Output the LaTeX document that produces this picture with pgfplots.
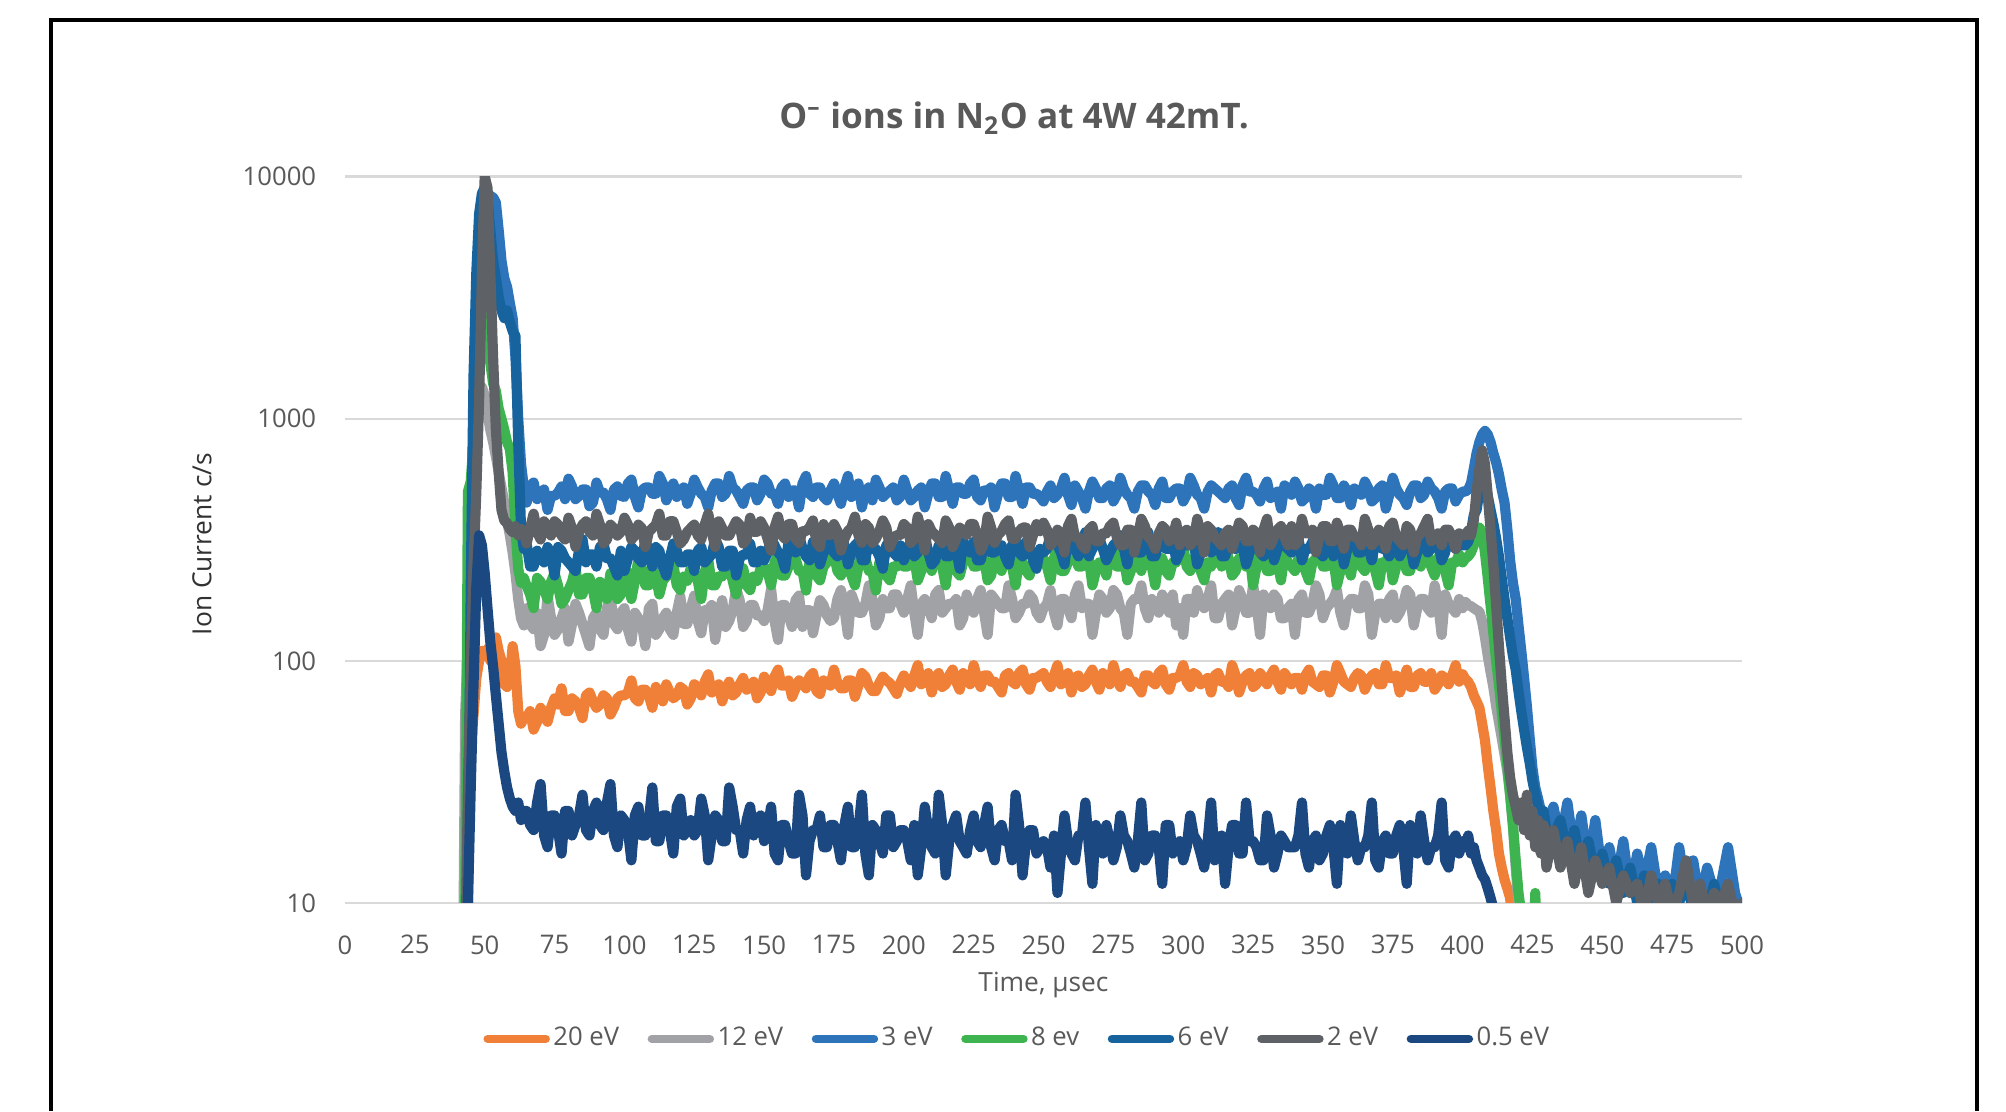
\documentclass[border=0pt]{standalone}
\usepackage{fontspec}
\setmainfont{Open Sans}
\usepackage{pgfplots}
\usepackage{pgfplotstable}
\pgfplotsset{compat=1.18}
\definecolor{cO}{RGB}{240,128,56}
\definecolor{cG}{RGB}{160,162,166}
\definecolor{cB}{RGB}{46,116,186}
\definecolor{cGr}{RGB}{62,180,80}
\definecolor{cB6}{RGB}{22,99,157}
\definecolor{cD}{RGB}{94,97,101}
\definecolor{cN}{RGB}{27,72,128}
\definecolor{txt}{RGB}{89,89,89}
\definecolor{gridc}{RGB}{217,217,217}
\pgfplotstableread{
t o20 g12 b3 gr8 b6 d2 n05
42 2 2 2 2 2 2 2
43 5 60 3 8 3 5 3
44 30 120 20 500 10 30 10
45 42 400 150 550 200 100 30
46 60 900 700 800 1500 250 80
47 85 1200 2500 1800 4000 500 200
48 100 1300 5000 2800 7000 1200 330
49 110 1350 7500 3000 8500 4000 300
50 105 1250 8500 2700 9000 10000 230
51 112 1050 8600 2200 8000 9000 165
52 100 900 8300 1700 6000 4000 120
53 115 800 8200 1400 4500 1800 95
54 125 700 7800 1300 3800 900 72
55 110 600 6000 1100 3200 600 55
56 100 520 4500 1000 2800 420 42
57 80 450 3800 900 2600 380 35
58 78 380 3500 800 2800 370 30
59 85 330 3000 750 2500 350 27
60 115 280 2600 600 2300 340 25
61 95 230 1800 350 2200 360 24
62 62 180 1000 240 800 330 26
63 55 150 650 210 350 350 22
64 58 140 520 220 290 340 24
65 58 165 450 204 305 305 24
66.25 62 142 525 188 245 353 21
67.5 52 135 545 165 245 405 20
68.75 56 158 465 220 285 341 26
70 64 115 495 212 265 317 31
71.25 60 128 510 196 255 377 19
72.5 56 185 420 180 295 353 17
73.75 64 150 480 212 275 329 23
75 70 128 480 230 225 377 23
76.25 66 135 495 204 295 365 20
77.5 77 150 525 172 285 329 16
78.75 62 165 465 180 265 317 24
80 62 120 565 196 255 390 24
81.25 70 142 525 212 245 353 19
82.5 68 172 465 242 235 295 21
83.75 64 158 480 188 285 341 23
85 58 142 510 188 318 365 28
86.25 72 128 510 220 255 377 20
87.5 74 115 435 220 275 341 19
88.75 68 150 450 196 275 329 24
90 64 158 545 165 245 405 26
91.25 66 135 495 212 295 365 21
92.5 72 128 495 204 305 305 20
93.75 70 165 465 180 265 317 26
95 60 185 420 230 265 365 31
96.25 64 142 510 204 245 353 19
97.5 70 135 525 180 225 329 17
98.75 72 158 480 188 285 341 23
100 72 165 475 232 235 390 22
101.25 74 135 540 232 265 365 20
102.5 83 120 560 180 295 317 15
103.75 70 158 475 214 285 329 23
105 68 150 430 262 265 365 25
106.25 76 142 505 241 255 353 19
107.5 76 115 520 205 318 295 19
108.75 72 165 520 205 275 341 22
110 64 172 490 241 245 353 30
111.25 78 128 490 223 295 365 18
112.5 74 135 580 188 285 405 18
113.75 68 150 540 214 245 329 23
115 80 158 460 223 225 329 23
116.25 74 135 505 232 265 377 20
117.5 70 128 540 250 305 377 16
118.75 72 158 475 205 285 341 25
120 78 185 505 196 255 305 27
121.25 76 142 520 223 255 317 19
122.5 66 142 445 214 275 341 20
123.75 70 165 490 241 275 353 22
125 80 186 560 232 235 365 19
126.25 78 146 520 214 285 329 20
127.5 72 130 490 180 295 317 27
128.75 82 162 475 232 255 365 23
130 88 162 430 262 265 405 15
131.25 74 170 505 205 275 341 19
132.5 76 122 540 205 318 295 23
133.75 80 154 540 223 295 377 22
135 68 178 475 223 245 353 18
136.25 76 138 490 241 245 329 18
137.5 82 146 580 250 285 329 30
138.75 72 162 520 214 285 353 25
140 74 198 505 188 225 377 20
141.25 80 178 475 232 265 365 20
142.5 85 138 445 241 275 305 16
143.75 76 146 505 205 275 317 22
145 78 170 520 196 305 390 25
146.25 82 170 520 223 255 341 19
147.5 70 154 460 214 255 341 22
148.75 74 154 490 241 285 377 23
150 86 146 560 245 260 355 18
151.25 81 162 540 235 280 319 20
152.5 75 198 490 205 320 285 25
153.75 86 146 490 255 300 355 16
155 92 122 445 275 280 394 15
156.25 79 170 520 225 270 331 21
157.5 79 170 540 225 240 319 21
158.75 83 154 475 245 310 367 18
160 71 138 505 287 300 367 16
161.25 77 178 505 265 280 319 16
162.5 83 186 430 235 332 307 28
163.75 81 138 540 235 290 343 23
165 77 162 580 195 270 343 13
166.25 86 162 490 255 260 355 18
167.5 89 130 475 265 310 380 20
168.75 75 154 520 225 300 307 20
170 73 178 520 215 250 295 23
171.25 83 170 475 245 280 367 17
172.5 81 154 460 255 290 331 17
173.75 79 146 505 265 310 331 21
175 92 150 540 275 280 367 21
176.25 81 180 490 235 270 343 18
177.5 77 196 445 225 332 285 15
178.75 77 165 520 255 300 319 21
180 83 128 580 255 250 343 25
181.25 83 188 475 225 280 355 17
182.5 71 172 490 205 300 394 17
183.75 79 158 540 245 310 331 20
185 89 158 430 287 260 307 28
186.25 86 172 505 265 260 367 16
187.5 79 205 520 235 320 355 13
188.75 75 180 460 235 290 307 21
190 75 140 560 195 290 319 20
191.25 81 150 520 255 270 343 18
192.5 86 180 475 265 240 380 16
193.75 83 165 490 225 300 355 23
195 81 165 505 215 310 295 23
196.25 77 188 520 245 280 319 17
197.5 73 188 460 245 270 331 18
198.75 81 172 475 265 300 331 20
200 87 158 560 245 260 367 20
201.25 82 180 505 245 290 355 18
202.5 78 205 460 297 310 307 15
203.75 87 158 475 265 270 319 21
205 96 128 505 215 280 394 13
206.25 80 172 520 235 310 343 17
207.5 82 180 430 265 332 285 25
208.75 89 165 490 255 280 367 20
210 74 150 540 235 250 343 17
211.25 85 188 540 275 260 331 16
212.5 89 196 475 285 300 319 28
213.75 78 158 475 245 300 307 21
215 80 165 580 205 270 380 13
216.25 87 172 505 265 270 355 18
217.5 92 172 445 255 320 295 21
218.75 82 180 520 235 290 319 23
220 76 140 520 225 240 355 18
221.25 89 150 490 255 310 343 17
222.5 85 188 490 275 290 331 16
223.75 80 165 540 275 280 367 20
225 96 158 560 245 310 367 23
226.25 85 180 475 245 260 331 18
227.5 78 196 460 297 260 285 17
228.75 87 158 505 265 300 307 21
230 87 128 505 215 332 394 25
231.25 82 188 520 225 280 355 17
232.5 82 180 430 265 280 307 15
233.75 78 172 490 255 290 331 20
235 74 165 540 235 300 343 21
236.25 87 165 540 275 270 367 18
237.5 89 205 475 285 250 380 18
238.75 82 180 475 245 300 319 15
240 80 150 580 205 320 319 28
241.25 89 158 505 265 280 343 21
242.5 92 172 445 255 270 355 13
243.75 80 172 520 235 310 355 18
245 76 188 520 225 290 295 20
246.25 85 180 490 255 260 331 20
247.5 85 158 490 275 240 367 16
248.75 87 150 475 265 290 343 17
250 89 165 455 265 280 372 18
251.25 82 172 500 245 290 348 17
252.5 78 196 530 215 330 300 14
253.75 87 158 470 265 310 312 19
255 96 140 485 297 300 348 11
256.25 80 180 515 235 280 336 16
257.5 82 180 570 235 250 280 23
258.75 89 165 485 255 320 360 18
260 74 150 440 275 310 386 16
261.25 85 188 530 275 290 324 15
262.5 87 205 500 245 270 324 19
263.75 78 165 470 245 300 300 19
265 80 172 425 285 340 290 26
266.25 87 172 500 265 270 348 17
267.5 92 128 550 205 290 360 12
268.75 82 158 515 235 310 312 21
270 76 188 470 255 320 312 17
271.25 89 180 470 255 290 336 16
272.5 85 158 515 225 260 336 21
273.75 80 165 530 275 280 360 18
275 96 196 455 297 300 372 15
276.25 85 188 485 245 310 324 17
277.5 78 165 570 245 330 300 23
278.75 87 158 515 265 290 300 19
280 89 128 485 215 250 348 18
281.25 82 172 470 235 320 348 16
282.5 82 180 425 275 310 280 14
283.75 78 180 500 255 280 324 18
285 74 205 530 235 280 386 26
286.25 87 165 530 275 300 360 15
287.5 87 150 500 285 340 324 16
288.75 82 180 485 245 270 312 19
290 80 172 440 205 270 290 19
291.25 89 158 515 265 310 336 17
292.5 92 188 550 265 320 360 12
293.75 80 172 470 235 290 348 21
295 76 158 470 225 290 312 21
296.25 85 188 500 255 320 324 16
297.5 85 140 515 255 260 372 17
298.75 87 165 515 275 280 300 18
300 96 128 455 297 330 336 15
301.25 82 180 485 245 300 348 17
302.5 78 180 570 235 300 300 23
303.75 89 158 530 265 310 312 19
305 87 196 485 275 250 386 18
306.25 80 172 470 235 280 336 16
307.5 82 165 425 215 310 280 14
308.75 85 180 500 255 320 360 18
310 74 205 530 245 280 348 26
311.25 87 150 515 275 290 324 15
312.5 89 150 500 285 340 312 16
313.75 82 172 485 245 270 300 19
315 82 180 470 297 270 336 12
316.25 78 188 515 265 310 348 17
317.5 96 140 530 225 330 290 21
318.75 87 165 470 235 290 324 21
320 74 196 440 265 300 372 16
321.25 82 180 530 255 300 360 16
322.5 87 158 570 245 250 312 26
323.75 89 158 500 275 280 312 18
325 78 205 500 205 320 348 18
326.25 80 172 485 245 320 336 17
327.5 89 128 455 285 280 280 15
328.75 85 188 515 265 270 348 15
330 80 172 550 235 340 386 23
331.25 87 165 470 235 310 300 19
332.5 92 188 485 275 260 324 14
333.75 82 180 500 255 290 348 16
335 76 150 425 215 310 360 19
336.25 89 150 530 275 300 324 18
337.5 85 165 515 255 290 300 17
338.75 80 172 485 245 280 360 17
340 85 128 550 235 310 300 17
341.25 85 180 515 265 320 312 19
342.5 76 188 455 285 260 386 26
343.75 87 158 470 235 290 336 16
345 92 158 515 215 290 336 14
346.25 82 172 500 255 310 348 18
347.5 80 205 425 265 340 280 19
348.75 78 188 515 275 280 324 15
350 87 150 485 245 270 360 16
351.25 87 165 485 245 300 360 19
352.5 74 172 570 297 320 312 21
353.75 82 180 530 265 270 312 17
355 96 196 470 205 300 372 12
356.25 89 158 470 235 310 336 21
357.5 82 140 530 255 250 290 18
358.75 80 172 500 255 290 348 16
360 78 180 440 225 330 348 23
361.25 85 180 515 275 320 324 18
362.5 89 165 500 275 280 324 15
363.75 87 165 485 245 280 300 17
365 76 205 550 235 310 386 17
366.25 82 188 515 265 300 348 19
367.5 87 128 455 285 260 300 26
368.75 89 158 470 235 310 312 15
370 80 172 515 205 340 348 14
371.25 80 172 530 255 290 336 18
372.5 96 150 425 255 290 290 19
373.75 85 180 485 275 270 360 16
375 85 188 570 215 320 372 16
376.25 87 150 515 245 310 324 19
377.5 74 158 485 265 270 312 21
378.75 82 172 470 265 290 300 17
380 92 196 440 235 300 360 12
381.25 78 188 500 235 300 348 21
382.5 78 140 530 297 250 280 18
383.75 87 165 530 255 280 324 16
385 89 180 470 245 330 336 23
386.25 82 180 485 275 320 360 18
387.5 82 165 550 275 280 386 15
388.75 89 158 515 245 290 312 17
390 76 205 500 225 310 324 17
391.25 80 172 470 265 310 336 19
392.5 87 128 425 285 260 300 26
393.75 85 188 500 235 280 348 15
395 80 172 515 205 340 348 14
396.25 87 165 515 255 300 324 18
397.5 96 158 455 255 290 290 19
398.75 82 180 485 275 310 336 16
400 88 165 500 255 300 330 18
401 84 175 500 265 300 330 17
402 82 170 510 270 310 345 19
403 78 168 540 280 340 330 16
404 72 165 620 300 400 380 17
405 68 162 720 330 420 500 15
406 64 160 800 355 500 620 14
407 55 145 860 340 560 740 13
408 47 125 890 280 540 650 12.5
409 37 105 860 220 480 480 11.5
410 30 90 800 170 420 350 10.5
411 24 78 720 130 370 250 9.5
412 20 65 660 100 320 170 8
413 16 56 590 80 270 115 5
414 14 48 510 62 220 80 3
415 12.5 41 450 48 180 58 3
416 11.5 35 350 37 150 42 3
417 10.5 28 260 28 125 33 3
418 8 21 210 21 105 28 3
419 5 14 180 15 92 25 3
420 3 10 140 11 75 22 3
421 3 7 110 9 62 26 3
422 3 3 85 7 52 20 3
423 3 3 65 5 44 28 3
424 3 3 48 5 38 19 3
425 3 3 36 4 32 24 3
426 3 3 30 11 28 17 3
427 3 3 27 4 25 22 3
428 3 3 24 3 22 16 3
429 3 3 22 3 24 21 3
430 3 3 20 3 20 14 3
432.5 3 3 25 3 19 20 3
435 3 3 18 3 22 14 3
437.5 3 3 26 3 16 18 3
440 3 3 16 3 20 12 3
442.5 3 3 23 3 14 17 3
445 3 3 14 3 18 11 3
447.5 3 3 22 3 13 15 3
450 3 3 13 3 16 12 3
452.5 3 3 17 3 12 14 3
455 3 3 12 3 15 10 3
457.5 3 3 18 3 11 13 3
460 3 3 11 3 14 11 3
462.5 3 3 16 3 10 12 3
465 3 3 12 3 13 9 3
467.5 3 3 17 3 10 13 3
470 3 3 11 3 12 10 3
472.5 3 3 13 3 9 12 3
475 3 3 10 3 12 9 3
477.5 3 3 17 3 10 11 3
480 3 3 11 3 13 15 3
482.5 3 3 15 3 9 10 3
485 3 3 10 3 11 12 3
487.5 3 3 14 3 9 9 3
490 3 3 11 3 12 11 3
492.5 3 3 12 3 9 10 3
495 3 3 17 3 11 12 3
497.5 3 3 11 3 9 9 3
500 3 3 9 3 9 10 3
}\data
\begin{document}
\begin{tikzpicture}[x=1cm,y=1cm]
\useasboundingbox (0,0) rectangle (20.06,11.11);
\fill[white] (0,0) rectangle (20.06,11.11);
\draw[black, line width=0.9pt] (0.51,0) -- (0.51,10.91) -- (19.77,10.91) -- (19.77,0);
\node[text=txt, font=\fontsize{10}{12}\selectfont\bfseries] at (10.14,9.93) {O\textsuperscript{–} ions in N\textsubscript{2}O at 4W 42mT.};
\begin{axis}[
  at={(3.45cm,2.08cm)}, anchor=south west,
  scale only axis, width=13.97cm, height=7.265cm,
  ymode=log, ymin=10, ymax=10000,
  xmin=0, xmax=500,
  xtick={0,25,...,500},
  ytick={10,100,1000,10000},
  yticklabels={10,100,1000,10000},
  minor ytick={},
  major tick length=0pt, minor tick length=0pt,
  axis line style={draw=none},
  ymajorgrids, grid style={gridc, line width=0.6pt},
  /pgf/number format/assume math mode=true,
  tick label style={text=txt, font=\fontsize{7.3}{9}\selectfont},
  xticklabel style={yshift=-0.2cm},
  yticklabel style={xshift=-0.165cm},
  xlabel={Time, μsec},
  ylabel={Ion Current c/s},
  xlabel style={at={(axis description cs:0.5,-0.113)}, anchor=center, text=txt, font=\fontsize{7.5}{9}\selectfont},
  ylabel style={at={(axis description cs:-0.1024,0.494)}, anchor=center, text={rgb,255:red,50;green,50;blue,50}, font=\fontsize{7.5}{9}\selectfont},
  clip=true,
  every axis plot/.append style={line width=2.9pt, line join=round, line cap=round},
  legend columns=7,
  legend style={at={(0.4818,-0.187)}, anchor=center, draw=none, fill=none,
    font=\fontsize{7.3}{9}\selectfont, text=txt,
    nodes={inner xsep=1pt},
    /tikz/every even column/.append style={column sep=0.25cm}},
  legend image code/.code={\draw[#1, line width=2.4pt, line cap=round] (0cm,0cm) -- (0.58cm,0cm);},
]
\addplot[cO] table[x=t,y=o20] {\data};
\addlegendentry{20 eV}
\addplot[cG] table[x=t,y=g12] {\data};
\addlegendentry{12 eV}
\addplot[cB] table[x=t,y=b3] {\data};
\addlegendentry{3 eV}
\addplot[cGr] table[x=t,y=gr8] {\data};
\addlegendentry{8 ev}
\addplot[cB6] table[x=t,y=b6] {\data};
\addlegendentry{6 eV}
\addplot[cD] table[x=t,y=d2] {\data};
\addlegendentry{2 eV}
\addplot[cN] table[x=t,y=n05] {\data};
\addlegendentry{0.5 eV}
\end{axis}
\end{tikzpicture}
\end{document}
